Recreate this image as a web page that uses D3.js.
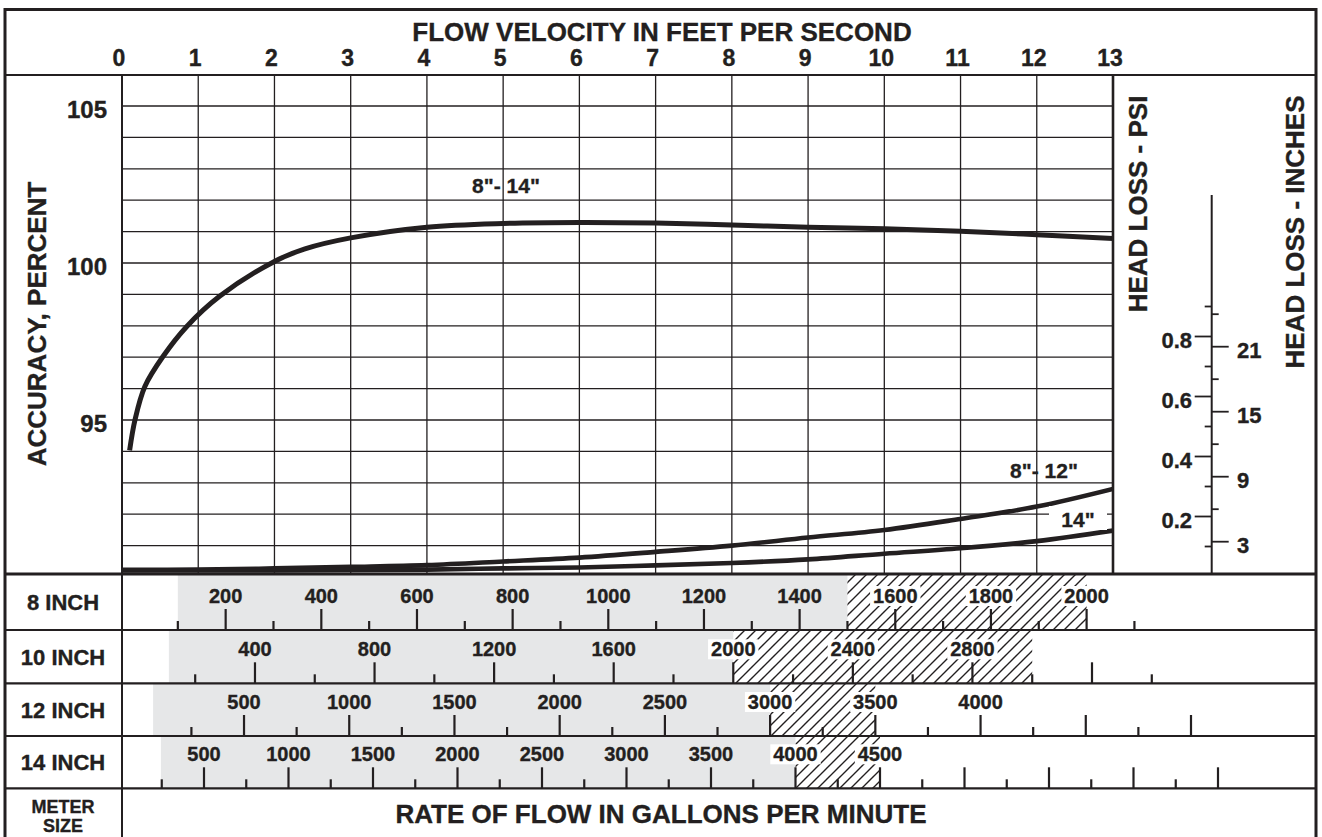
<!DOCTYPE html>
<html>
<head>
<meta charset="utf-8">
<script src="https://cdn.jsdelivr.net/npm/d3@7/dist/d3.min.js"></script>
<style>
  html,body{margin:0;padding:0;background:#fff;}
  svg{display:block;}
  text{font-family:"Liberation Sans",Arial,Helvetica,sans-serif;font-weight:bold;fill:#231f20;stroke:#231f20;stroke-width:0.35px;}
</style>
</head>
<body>
<svg id="chart" width="1322" height="837"></svg>
<script>
// ---------------- DATA ----------------
const velocityTicks = [0,1,2,3,4,5,6,7,8,9,10,11,12,13];
const accuracyTicks = [95,100,105];
const accuracyGrid = [91,92,93,94,95,96,97,98,99,100,101,102,103,104,105];

// Accuracy curve 8"-14" (velocity ft/s, accuracy %)
const accVelocity = [0.1,0.17,0.3,0.54,0.85,1.28,2.0,2.4,3,4,5,6,7,8,9,10,11,12,13];
const accPercent  = [94.03,95.0,96.07,97.03,97.98,98.94,100.05,100.45,100.80,101.14,101.26,101.29,101.27,101.21,101.14,101.09,101.01,100.90,100.78];

// Head loss curves (velocity ft/s, head loss psi)
const hlVelocity812 = [0,1,2,3,4,5,6,7,8,9,10,11,12,13];
const hlPsi812      = [0.022,0.023,0.027,0.032,0.038,0.05,0.063,0.082,0.103,0.13,0.155,0.192,0.233,0.292];
const hlVelocity14  = [0,2,4,5,6,7,8,9,10,11,12,13];
const hlPsi14       = [0.02,0.02,0.023,0.027,0.03,0.037,0.045,0.057,0.076,0.094,0.118,0.153];

const psiMajor = [0.2,0.4,0.6,0.8];
const psiMinor = [0.1,0.3,0.5,0.7,0.9];
const inchMajor = [3,9,15,21];
const inchMinor = [6,12,18,24];

const meterSizes = ["8 INCH","10 INCH","12 INCH","14 INCH"];
// gallons-per-minute scales for each meter
const gpm8Labels  = [200,400,600,800,1000,1200,1400,1600,1800,2000];
const gpm8Ticks   = d3.range(100,2101,100);
const gpm10Labels = [400,800,1200,1600,2000,2400,2800];
const gpm10Ticks  = d3.range(200,3401,200);
const gpm12Labels = [500,1000,1500,2000,2500,3000,3500,4000];
const gpm12Ticks  = d3.range(250,5001,250);
const gpm14Labels = [500,1000,1500,2000,2500,3000,3500,4000,4500];
const gpm14Ticks  = d3.range(250,6501,250);
// normal (grey) and intermittent (hatched) ranges, gpm
const normalRanges = [[100,1500],[112,2000],[68,3000],[245,4000]];
const intermRanges = [[1500,2000],[2000,3000],[3000,3500],[4000,4500]];
const majorSteps = [200,400,500,500];

// ---------------- DRAW ----------------
const svg = d3.select("#chart");
const ink = "#231f20";
const defs = svg.append("defs");
const pat = defs.append("pattern").attr("id","hatch").attr("patternUnits","userSpaceOnUse")
  .attr("width",11).attr("height",11);
pat.append("path").attr("d","M0,11 L11,0 M-2.75,2.75 L2.75,-2.75 M8.25,13.75 L13.75,8.25")
  .attr("stroke",ink).attr("stroke-width",1.4);

const xV = d3.scaleLinear().domain([0,13]).range([122,1113]);
const yA = d3.scaleLinear().domain([95,105]).range([420,106]);
const yPsi = d3.scaleLinear().domain([0,0.8]).range([576.5,336.5]);
const yIn = d3.scaleLinear().domain([3,21]).range([541.7,346.7]);

const plotTop = 75, plotBottom = 574, left = 122, right = 1113;

// grid
const g = svg.append("g");
g.selectAll(".vg").data(velocityTicks.slice(1,-1)).enter().append("line")
  .attr("x1",d=>xV(d)).attr("x2",d=>xV(d)).attr("y1",plotTop).attr("y2",plotBottom)
  .attr("stroke",ink).attr("stroke-width",1.3);
g.selectAll(".hg").data(accuracyGrid).enter().append("line")
  .attr("x1",left).attr("x2",right).attr("y1",d=>yA(d)).attr("y2",d=>yA(d))
  .attr("stroke",ink).attr("stroke-width",1.3);

// top axis labels
svg.append("text").attr("x",662).attr("y",41).attr("text-anchor","middle")
  .style("font-size","26px").text("FLOW VELOCITY IN FEET PER SECOND");
svg.selectAll(".vt").data(velocityTicks).enter().append("text")
  .attr("x",d=>xV(d)-3).attr("y",66).attr("text-anchor","middle")
  .style("font-size","23px").text(d=>d);

// left axis
svg.selectAll(".at").data(accuracyTicks).enter().append("text")
  .attr("x",107).attr("y",d=>yA(d)+12).attr("text-anchor","end")
  .style("font-size","24px").text(d=>d);
svg.append("text").attr("transform","translate(46,324) rotate(-90)")
  .attr("text-anchor","middle").style("font-size","26px").text("ACCURACY, PERCENT");

// curves
const clip = defs.append("clipPath").attr("id","plotclip");
clip.append("rect").attr("x",left).attr("y",plotTop).attr("width",right-left).attr("height",plotBottom-plotTop);
const curves = svg.append("g").attr("clip-path","url(#plotclip)");
const accLine = d3.line().x(d=>xV(d[0])).y(d=>yA(d[1])).curve(d3.curveCatmullRom.alpha(0.5));
curves.append("path").datum(d3.zip(accVelocity,accPercent)).attr("d",accLine)
  .attr("fill","none").attr("stroke",ink).attr("stroke-width",5);
const hlLine = d3.line().x(d=>xV(d[0])).y(d=>yPsi(d[1])).curve(d3.curveCatmullRom.alpha(0.5));
curves.append("path").datum(d3.zip(hlVelocity812,hlPsi812)).attr("d",hlLine)
  .attr("fill","none").attr("stroke",ink).attr("stroke-width",4.6);
curves.append("path").datum(d3.zip(hlVelocity14,hlPsi14)).attr("d",hlLine)
  .attr("fill","none").attr("stroke",ink).attr("stroke-width",4.6);

// curve labels
svg.append("text").attr("x",506).attr("y",193).attr("text-anchor","middle")
  .style("font-size","21px").text('8"- 14"');
svg.append("text").attr("x",1044).attr("y",478).attr("text-anchor","middle")
  .style("font-size","21px").text('8"- 12"');
svg.append("rect").attr("x",1049).attr("y",506).attr("width",58).attr("height",24).attr("fill","#fff");
svg.append("text").attr("x",1078).attr("y",527).attr("text-anchor","middle")
  .style("font-size","21px").text('14"');

// head loss axis
const hx = 1211.7;
svg.append("line").attr("x1",hx).attr("x2",hx).attr("y1",195).attr("y2",plotBottom)
  .attr("stroke",ink).attr("stroke-width",2);
svg.selectAll(".pM").data(psiMajor).enter().append("line")
  .attr("x1",hx-17).attr("x2",hx).attr("y1",d=>yPsi(d)).attr("y2",d=>yPsi(d))
  .attr("stroke",ink).attr("stroke-width",1.8);
svg.selectAll(".pm").data(psiMinor).enter().append("line")
  .attr("x1",hx-7).attr("x2",hx).attr("y1",d=>yPsi(d)).attr("y2",d=>yPsi(d))
  .attr("stroke",ink).attr("stroke-width",1.8);
svg.selectAll(".pl").data(psiMajor).enter().append("text")
  .attr("x",1192).attr("y",d=>yPsi(d)+11).attr("text-anchor","end")
  .style("font-size","22px").text(d=>d.toFixed(1));
svg.selectAll(".iM").data(inchMajor).enter().append("line")
  .attr("x1",hx).attr("x2",hx+17).attr("y1",d=>yIn(d)).attr("y2",d=>yIn(d))
  .attr("stroke",ink).attr("stroke-width",1.8);
svg.selectAll(".im").data(inchMinor).enter().append("line")
  .attr("x1",hx).attr("x2",hx+7).attr("y1",d=>yIn(d)).attr("y2",d=>yIn(d))
  .attr("stroke",ink).attr("stroke-width",1.8);
svg.selectAll(".il").data(inchMajor).enter().append("text")
  .attr("x",1237).attr("y",d=>yIn(d)+11).attr("text-anchor","start")
  .style("font-size","22px").text(d=>d);
svg.append("text").attr("transform","translate(1147,204) rotate(-90)")
  .attr("text-anchor","middle").style("font-size","26px").text("HEAD LOSS - PSI");
svg.append("text").attr("transform","translate(1304,232) rotate(-90)")
  .attr("text-anchor","middle").style("font-size","26px").text("HEAD LOSS - INCHES");

// meter rows
const rowEdges = [574,630,683.3,736,788.3];
const rowScales = [
  d3.scaleLinear().domain([0,2000]).range([130,1086.6]),
  d3.scaleLinear().domain([0,3200]).range([135.4,1092]),
  d3.scaleLinear().domain([0,5000]).range([138.8,1191]),
  d3.scaleLinear().domain([0,6500]).range([119.5,1218])
];
const rowTicks = [gpm8Ticks,gpm10Ticks,gpm12Ticks,gpm14Ticks];
const rowLabels = [gpm8Labels,gpm10Labels,gpm12Labels,gpm14Labels];

meterSizes.forEach((name,i)=>{
  const top = rowEdges[i], bot = rowEdges[i+1], s = rowScales[i];
  const rg = svg.append("g");
  rg.append("rect").attr("x",s(normalRanges[i][0])).attr("y",top)
    .attr("width",s(normalRanges[i][1])-s(normalRanges[i][0])).attr("height",bot-top)
    .attr("fill","#e6e7e8");
  rg.append("rect").attr("x",s(intermRanges[i][0])).attr("y",top)
    .attr("width",s(intermRanges[i][1])-s(intermRanges[i][0])).attr("height",bot-top)
    .attr("fill","url(#hatch)");
  rg.selectAll(".tk").data(rowTicks[i]).enter().append("line")
    .attr("x1",d=>s(d)).attr("x2",d=>s(d)).attr("y1",bot)
    .attr("y2",d=> d % majorSteps[i] === 0 ? bot-21 : bot-9)
    .attr("stroke",ink).attr("stroke-width",2.2);
  const lab = rg.selectAll(".lb").data(rowLabels[i]).enter().append("g");
  lab.filter(d=>d>=normalRanges[i][1]).append("rect")
    .attr("x",d=>s(d)-String(d).length*5.8-2).attr("y",bot-44)
    .attr("width",d=>String(d).length*11.6+4).attr("height",20).attr("fill","#fff");
  lab.append("text").attr("x",d=>s(d)).attr("y",bot-27).attr("text-anchor","middle")
    .style("font-size","20px").text(d=>d);
  svg.append("text").attr("x",63).attr("y",(top+bot)/2+8).attr("text-anchor","middle")
    .style("font-size","22px").text(name);
});

svg.append("text").attr("x",63).attr("y",813).attr("text-anchor","middle")
  .style("font-size","18px").text("METER");
svg.append("text").attr("x",63).attr("y",832).attr("text-anchor","middle")
  .style("font-size","18px").text("SIZE");
svg.append("text").attr("x",661).attr("y",823).attr("text-anchor","middle")
  .style("font-size","26px").text("RATE OF FLOW IN GALLONS PER MINUTE");

// frame lines
const fr = svg.append("g").attr("stroke",ink).attr("fill","none");
fr.append("line").attr("x1",5).attr("x2",5).attr("y1",8).attr("y2",837).attr("stroke-width",3);
fr.append("line").attr("x1",1316).attr("x2",1316).attr("y1",8).attr("y2",837).attr("stroke-width",3);
fr.append("line").attr("x1",4).attr("x2",1317).attr("y1",9.5).attr("y2",9.5).attr("stroke-width",3);
fr.append("line").attr("x1",4).attr("x2",1317).attr("y1",plotTop).attr("y2",plotTop).attr("stroke-width",2.2);
fr.append("line").attr("x1",left).attr("x2",left).attr("y1",plotTop).attr("y2",837).attr("stroke-width",2);
fr.append("line").attr("x1",right).attr("x2",right).attr("y1",plotTop).attr("y2",plotBottom).attr("stroke-width",2.6);
rowEdges.forEach((y,i)=>{
  fr.append("line").attr("x1",4).attr("x2",1317).attr("y1",y).attr("y2",y)
    .attr("stroke-width", i===0 ? 3 : 2.2);
});
</script>
</body>
</html>
